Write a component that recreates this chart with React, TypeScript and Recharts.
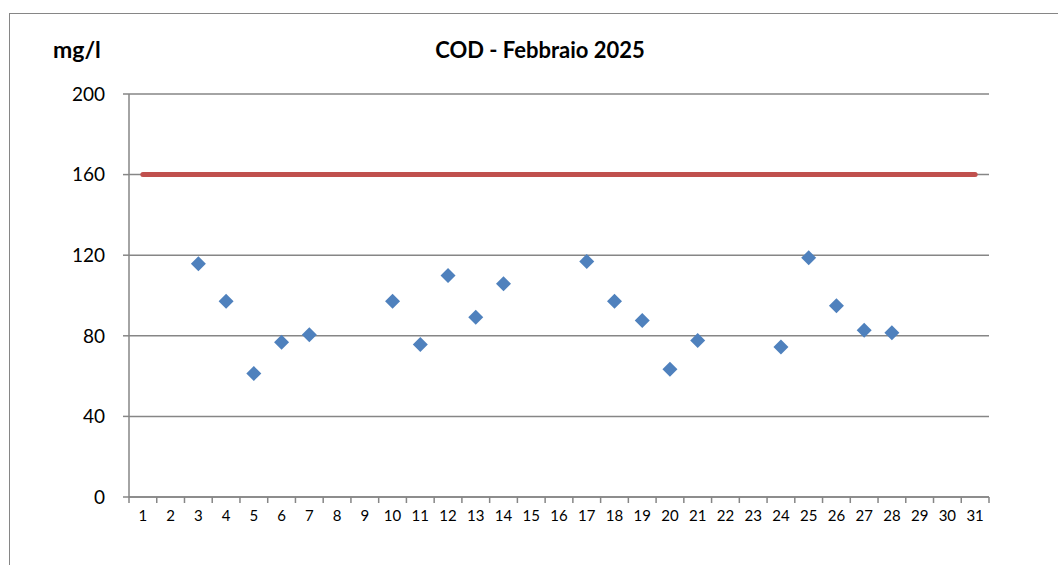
import { ComposedChart, Line, Scatter, XAxis, YAxis, CartesianGrid } from 'recharts';

// days of the month (x categories)
const days = [1, 2, 3, 4, 5, 6, 7, 8, 9, 10, 11, 12, 13, 14, 15, 16, 17, 18, 19, 20, 21, 22, 23, 24, 25, 26, 27, 28, 29, 30, 31];

// COD measurements, mg/l (null = no sample)
const codValues: (number | null)[] = [
  null, null, 115.7, 97.2, 61.3, 76.8, 80.5, null, null, 97.2,
  75.7, 109.9, 89.2, 105.8, null, null, 116.9, 97.2, 87.6, 63.4,
  77.7, null, null, 74.5, 118.7, 94.9, 82.8, 81.5, null, null, null,
];

// legal limit
const limitValue = 160;

const yTicks = [0, 40, 80, 120, 160, 200];

const W = 1058;
const H = 565;
const MARGIN = { top: 94, right: 69, left: 69, bottom: 38 };
const Y_AXIS_W = 60;
const X_AXIS_H = 30;
const PLOT_W = W - MARGIN.left - MARGIN.right - Y_AXIS_W;
const BAND = PLOT_W / days.length;

const GRID = '#868686';
const FONT = 'Lato, "Open Sans", sans-serif';

const chartData = days.map((day, i) => ({ day, cod: codValues[i], limit: limitValue }));
const pointData = chartData.filter((d) => d.cod !== null);

function Diamond(props: any) {
  const { cx, cy } = props;
  if (cx == null || cy == null) return null;
  const s = 7.5;
  return (
    <polygon
      points={`${cx},${cy - s} ${cx + s},${cy} ${cx},${cy + s} ${cx - s},${cy}`}
      fill="#4F81BD"
    />
  );
}

// Excel-style category ticks: marks on band edges, label in the middle
function DayTick(props: any) {
  const { x, y, payload } = props;
  const left = x - BAND / 2;
  const isLast = payload.value === days[days.length - 1];
  return (
    <g>
      <line x1={left} x2={left} y1={y} y2={y + 6} stroke={GRID} strokeWidth={1.5} />
      {isLast && <line x1={x + BAND / 2} x2={x + BAND / 2} y1={y} y2={y + 6} stroke={GRID} strokeWidth={1.5} />}
      <text x={x} y={y + 18} textAnchor="middle" dominantBaseline="central" fontSize={15} fill="#000" fontFamily={FONT}>
        {payload.value}
      </text>
    </g>
  );
}

export default function App() {
  return (
    <div style={{ position: 'absolute', left: 0, top: 0, width: W, height: H, overflow: 'hidden', fontFamily: FONT, background: '#fff' }}>
      <div style={{ position: 'absolute', left: 9, top: 13, width: W, height: H, border: `1.5px solid ${GRID}` }} />
      <div style={{ position: 'absolute', left: 53, top: 35, fontSize: 23, fontWeight: 700, lineHeight: '29px' }}>mg/l</div>
      <div style={{ position: 'absolute', left: 0, width: 1080, top: 36, textAlign: 'center', fontSize: 22, fontWeight: 700, lineHeight: '28px' }}>
        COD - Febbraio 2025
      </div>
      <div style={{ position: 'absolute', left: 0, top: 0 }}>
        <ComposedChart width={W} height={H} data={chartData} margin={MARGIN}>
          <CartesianGrid vertical={false} stroke={GRID} strokeWidth={1.5} />
          <XAxis
            dataKey="day"
            type="number"
            domain={[0.5, 31.5]}
            ticks={days}
            interval={0}
            height={X_AXIS_H}
            tickSize={0}
            tickMargin={0}
            tickLine={false}
            axisLine={{ stroke: GRID, strokeWidth: 1.5 }}
            tick={<DayTick />}
          />
          <YAxis
            domain={[0, 200]}
            ticks={yTicks}
            width={Y_AXIS_W}
            tickSize={6}
            tickMargin={18}
            tickLine={{ stroke: GRID, strokeWidth: 1.5 }}
            axisLine={{ stroke: GRID, strokeWidth: 1.5 }}
            tick={{ fill: '#000', fontSize: 19 }}
          />
          <Line
            dataKey="limit"
            stroke="#C0504D"
            strokeWidth={5}
            strokeLinecap="round"
            dot={false}
            activeDot={false}
            isAnimationActive={false}
          />
          <Scatter data={pointData} dataKey="cod" shape={<Diamond />} isAnimationActive={false} />
        </ComposedChart>
      </div>
    </div>
  );
}
